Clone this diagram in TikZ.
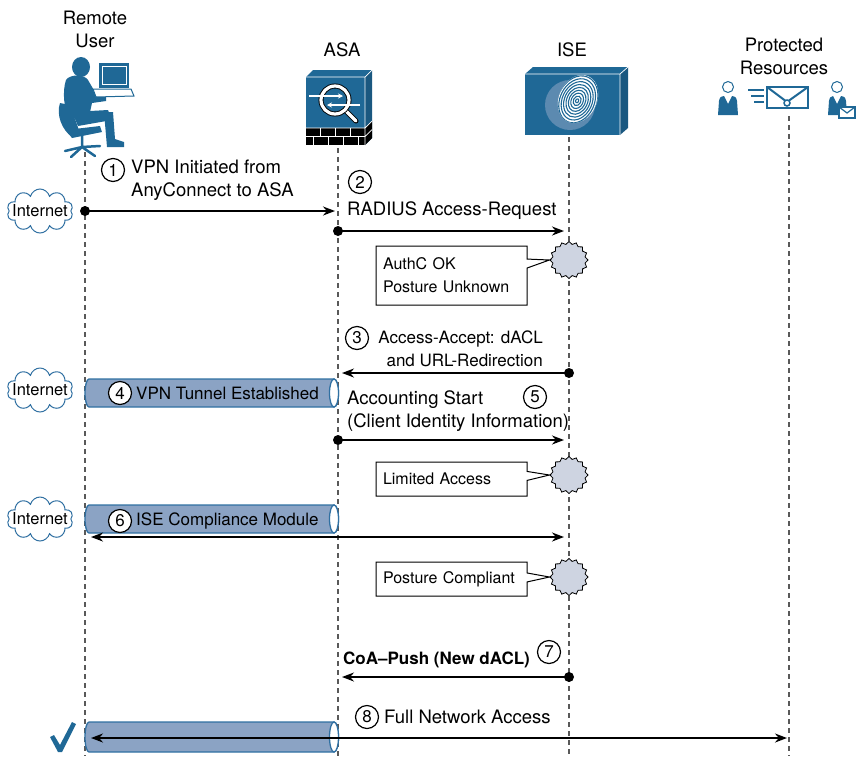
\documentclass[tikz,border=0pt]{standalone}
\usepackage{fontspec}
\setmainfont{TeX Gyre Heros}
\usetikzlibrary{arrows.meta,shapes.symbols,shapes.callouts}

\definecolor{ciscoblue}{RGB}{31,104,150}
\definecolor{tunnelfill}{RGB}{139,163,196}
\definecolor{tunneledge}{RGB}{48,112,162}
\definecolor{burstfill}{RGB}{206,212,225}
\definecolor{fingerblue}{RGB}{92,138,176}

\tikzset{
    lifeline/.style={draw=black!65, dash pattern=on 5pt off 4pt, line width=1.1pt},
    msg/.style={line width=1.8pt, -{Stealth[length=12pt,width=9pt]}, shorten >=3pt},
    dmsg/.style={line width=1.8pt, {Stealth[length=12pt,width=9pt]}-{Stealth[length=12pt,width=9pt]}},
    dot/.style={circle, fill=black, inner sep=0pt, minimum size=10pt},
    num/.style={circle, draw, fill=white, line width=1.2pt, inner sep=0pt, minimum size=23pt, font=\fontsize{17}{17}\selectfont},
    lbl/.style={inner sep=0pt, font=\fontsize{18.5}{23}\selectfont},
    note/.style={rectangle callout, draw, fill=white, line width=1pt, callout pointer width=9pt,
        text width=137pt, inner xsep=7pt, align=left, font=\fontsize{16}{23}\selectfont},
    burst/.style={starburst, starburst points=16, starburst point height=2.6pt, random starburst=0,
        draw, fill=burstfill, line width=0.8pt, minimum width=38pt, minimum height=37pt, inner sep=0pt},
    tunnelbody/.style={draw=tunneledge, fill=tunnelfill, line width=1.3pt},
    tunnelend/.style={draw=tunneledge, fill=white, line width=1.3pt},
    net/.style={cloud, cloud puffs=10, draw=tunneledge, fill=white, line width=1pt,
        minimum width=66pt, minimum height=44pt, aspect=1.5},
    nettext/.style={inner sep=0pt, font=\fontsize{16.5}{16.5}\selectfont},
}

\begin{document}
\begin{tikzpicture}[x=1pt,y=-1pt]
    \useasboundingbox (0,0) rectangle (856,756);

    % lifelines
    \coordinate (usr) at (85,152);
    \coordinate (asa) at (338,148);
    \coordinate (ise) at (569,137);
    \coordinate (res) at (789,116);
    \coordinate (bot) at (0,756);
    \draw[lifeline] (usr) -- (usr |- bot);
    \draw[lifeline] (asa) -- (asa |- bot);
    \draw[lifeline] (ise) -- (ise |- bot);
    \draw[lifeline] (res) -- (res |- bot);

    % headings
    \node[lbl, align=center] (husr) at (95,29) {Remote\\User};
    \node[lbl] (hasa) at (342,50) {ASA};
    \node[lbl] (hise) at (572,50) {ISE};
    \node[lbl, align=center] (hres) at (784,56) {Protected\\Resources};

    % remote user icon
    \begin{scope}[fill=ciscoblue]
        \draw[ciscoblue, line width=2.5pt, line cap=round] (82,134) -- (82,147)
            (82,147) -- (65,151) (82,147) -- (100,146) (82,147) -- (71,157) (82,147) -- (95,156);
        \fill (60,103) .. controls (56,115) and (62,130) .. (72,137) -- (80,133) -- (70,105) -- cycle;
        \fill (66,130) -- (100,126) -- (102,132) -- (72,138) -- cycle;
        \fill (66,80) .. controls (70,74) and (84,74) .. (88,80) -- (95,92) -- (106,95) -- (106,101)
            -- (92,103) -- (90,112) -- (70,120) .. controls (64,110) and (62,92) .. (66,80) -- cycle;
        \fill (72,112) -- (108,110) -- (112,120) -- (78,126) -- cycle;
        \fill (104,112) -- (113,112) -- (115,139) -- (124,142) -- (124,147) -- (107,147) -- cycle;
        \fill (81,67) ellipse [x radius=9pt, y radius=10pt];
        \fill (99,63) rectangle (129,88);
        \draw[white, line width=0.8pt] (102,66) rectangle (126,84);
        \draw[ciscoblue, fill=white, line width=1pt] (93,89) -- (131,89) -- (134,96) -- (96,97) -- cycle;
    \end{scope}

    % ASA icon
    \fill[ciscoblue] (306,77) rectangle (365,145);
    \fill[ciscoblue] (306,77) -- (313,70) -- (372,70) -- (365,77) -- cycle;
    \fill[ciscoblue!85!black] (365,77) -- (372,70) -- (372,138) -- (365,145) -- cycle;
    \fill[black] (306,128) rectangle (365,145);
    \fill[black] (365,128) -- (372,121) -- (372,138) -- (365,145) -- cycle;
    \draw[white, line width=0.7pt] (306,77) -- (365,77) -- (372,70) (365,77) -- (365,145)
        (306,128) -- (365,128) -- (372,121) (306,136.5) -- (365,136.5) -- (372,129.5);
    \foreach \x in {320,335,350} \draw[white, line width=0.7pt] (\x,128) -- (\x,136.5);
    \foreach \x in {313,328,343,358} \draw[white, line width=0.7pt] (\x,136.5) -- (\x,145);
    \draw[black, line width=5pt, line cap=round] (346,111) -- (356,121);
    \draw[white, line width=3.2pt, line cap=round] (346,111) -- (356,121);
    \draw[black, line width=5pt] (335,100) circle [radius=14pt];
    \draw[white, line width=3.2pt] (335,100) circle [radius=14pt];
    \draw[white, line width=1.5pt, -{Stealth[length=5pt,width=5pt]}] (309,96) -- (343,96);
    \draw[white, line width=1.5pt, -{Stealth[length=5pt,width=5pt]}] (360,105) -- (327,105);

    % ISE icon
    \fill[ciscoblue] (525,74) rectangle (620,135);
    \fill[ciscoblue] (525,74) -- (533,67) -- (628,67) -- (620,74) -- cycle;
    \fill[ciscoblue!85!black] (620,74) -- (628,67) -- (628,128) -- (620,135) -- cycle;
    \draw[white, line width=0.7pt] (525,74) -- (620,74) -- (628,67) (620,74) -- (620,135);
    \fill[fingerblue] (570,105) circle [radius=25pt];
    \begin{scope}[rotate around={-25:(578,99)}]
        \fill[white] (578,99) ellipse [x radius=19pt, y radius=25pt];
        \clip (578,99) ellipse [x radius=19pt, y radius=25pt];
        \foreach \r in {2,5,...,26}
            \draw[ciscoblue, line width=1.1pt] (578,101) ellipse [x radius=0.75*\r pt, y radius=\r pt];
    \end{scope}

    % protected resources icons
    \draw[ciscoblue, fill=white, line width=1pt] (728,87) circle [radius=5.5pt];
    \fill[ciscoblue] (718,115) -- (719,101) .. controls (720,97) .. (724,96) -- (728,104)
        -- (732,96) .. controls (736,97) .. (737,101) -- (738,115) -- cycle;
    \draw[ciscoblue, line width=2pt] (748,90) -- (764,90) (751,96) -- (764,96) (754,102) -- (764,102);
    \draw[ciscoblue, line width=2pt, fill=white] (767,87) rectangle (808,108);
    \draw[ciscoblue, line width=2pt] (767,87) -- (787,102) -- (808,87);
    \draw[ciscoblue, line width=1.5pt, fill=white] (787,103) circle [radius=3pt];
    \draw[ciscoblue, fill=white, line width=1pt] (837,87) circle [radius=5.5pt];
    \fill[ciscoblue] (828,115) -- (829,101) .. controls (830,97) .. (833,96) -- (837,104)
        -- (841,96) .. controls (845,97) .. (846,101) -- (847,115) -- cycle;
    \draw[ciscoblue, line width=1.5pt, fill=white] (839,107) rectangle (855,118);
    \draw[ciscoblue, line width=1.2pt] (839,107) -- (847,113) -- (855,107);

    % message rows
    \coordinate (r1) at (0,211);
    \coordinate (r2) at (0,231);
    \coordinate (r3) at (0,373);
    \coordinate (r5) at (0,440);
    \coordinate (r6) at (0,537);
    \coordinate (r7) at (0,677);
    \coordinate (r8) at (0,738);

    % internet clouds
    \node[net] (c1) at (40,211) {};
    \node[nettext] at (c1) {Internet};
    \node[net] (c4) at (40,390) {};
    \node[nettext] at (c4) {Internet};
    \node[net] (c6) at (40,519) {};
    \node[nettext] at (c6) {Internet};

    % tunnels from the user to the ASA
    \foreach \y/\h in {393/14, 519/14, 737/15} {
        \draw[tunnelbody] (334,{\y-\h}) -- (89,{\y-\h})
            arc [start angle=90, end angle=270, x radius=4pt, y radius=\h pt]
            -- (334,{\y+\h}) arc [start angle=-90, end angle=90, x radius=4.5pt, y radius=\h pt] -- cycle;
        \draw[tunnelend] (334,\y) ellipse [x radius=4.5pt, y radius=\h pt];
    }

    % step 1
    \node[num] (s1) at (113,170) {1};
    \node[lbl, anchor=west, align=left] (l1) at (131,180.5) {VPN Initiated from\\AnyConnect to ASA};
    \node[dot] (d1) at (usr |- r1) {};
    \draw[msg] (d1.center) -- (asa |- r1);

    % step 2
    \node[num] (s2) at (360,182) {2};
    \node[lbl, anchor=west] (l2) at (347,211) {RADIUS Access-Request};
    \node[dot] (d2) at (asa |- r2) {};
    \draw[msg, shorten >=5pt] (d2.center) -- (ise |- r2);
    \node[burst] (b1) at (569,260) {};
    \node[note, minimum height=59pt, callout absolute pointer={(b1.west)}] (n1) at (451.5,275.5) {AuthC OK\\Posture Unknown};

    % step 3
    \node[num] (s3) at (357,338) {3};
    \node[inner sep=0pt, anchor=east, align=right, font=\fontsize{17}{23}\selectfont] (l3) at (543,348.5)
        {Access-Accept: dACL\\and URL-Redirection};
    \node[dot] (d3) at (ise |- r3) {};
    \draw[msg, shorten >=4pt] (d3.center) -- (asa |- r3);

    % step 4
    \node[num] (s4) at (120,393) {4};
    \node[lbl, anchor=west, font=\fontsize{17}{17}\selectfont] (l4) at (136,393) {VPN Tunnel Established};

    % step 5
    \node[lbl, anchor=west, align=left] (l5) at (347,411.5) {Accounting Start\\(Client Identity Information)};
    \node[num] (s5) at (535,397) {5};
    \node[dot] (d5) at (asa |- r5) {};
    \draw[msg, shorten >=5pt] (d5.center) -- (ise |- r5);
    \node[burst] (b2) at (569,475) {};
    \node[note, minimum height=34pt, callout absolute pointer={(b2.west)}] (n2) at (451.5,479) {Limited Access};

    % step 6
    \node[num] (s6) at (120,521) {6};
    \node[lbl, anchor=west, font=\fontsize{17}{17}\selectfont] (l6) at (136,521) {ISE Compliance Module};
    \draw[dmsg, shorten <=6pt, shorten >=5pt] (usr |- r6) -- (ise |- r6);
    \node[burst] (b3) at (569,577) {};
    \node[note, minimum height=34pt, callout absolute pointer={(b3.west)}] (n3) at (451.5,579) {Posture Compliant};

    % step 7
    \node[inner sep=0pt, anchor=west, font=\bfseries\fontsize{17}{17}\selectfont] (l7) at (343,660) {CoA--Push (New dACL)};
    \node[num] (s7) at (549,652) {7};
    \node[dot] (d7) at (ise |- r7) {};
    \draw[msg, shorten >=4pt] (d7.center) -- (asa |- r7);

    % step 8
    \node[num] (s8) at (367,717) {8};
    \node[lbl, anchor=west] (l8) at (384,717) {Full Network Access};
    \draw[dmsg, shorten <=6pt, shorten >=2pt] (usr |- r8) -- (res |- r8);
    \fill[ciscoblue] (50,737) -- (54,735) -- (60,745) -- (72,722) -- (76,724) -- (62,752) -- (58,752) -- cycle;

\end{tikzpicture}
\end{document}
